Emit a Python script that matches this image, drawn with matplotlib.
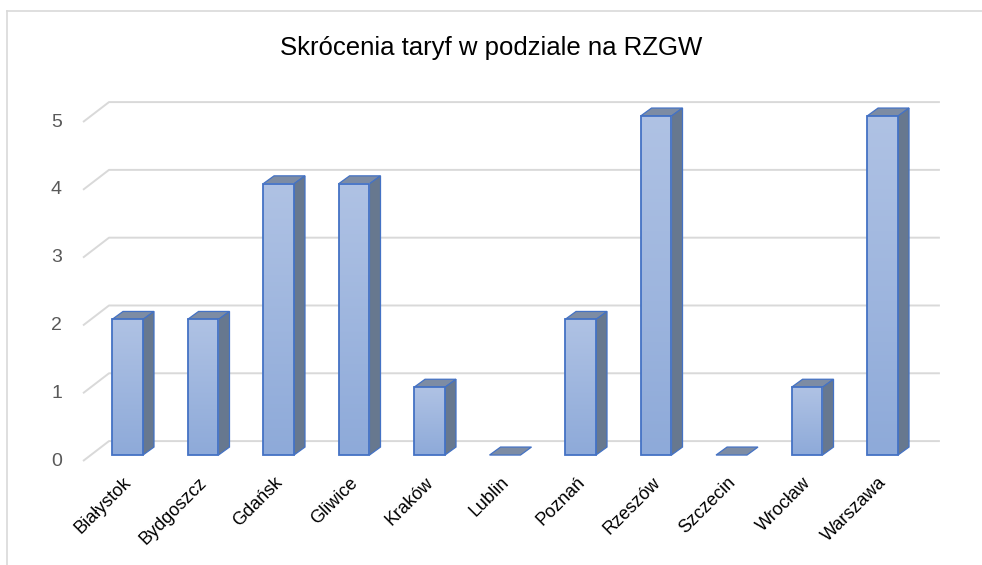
import numpy as np
import matplotlib.pyplot as plt
from matplotlib.patches import Polygon, Rectangle
from matplotlib.lines import Line2D
from matplotlib.colors import LinearSegmentedColormap

plt.rcParams['font.family'] = ['Liberation Sans', 'DejaVu Sans']

# data
categories = ['Białystok', 'Bydgoszcz', 'Gdańsk', 'Gliwice', 'Kraków', 'Lublin',
              'Poznań', 'Rzeszów', 'Szczecin', 'Wrocław', 'Warszawa']
values = [2, 2, 4, 4, 1, 0, 2, 5, 0, 1, 5]
y_ticks = [0, 1, 2, 3, 4, 5]
title = 'Skrócenia taryf w podziale na RZGW'

# style
edge_blue = '#4472c4'
side_col = '#67788f'
top_col = '#7d8ca4'
grid_col = '#d9d9d9'
grad = LinearSegmentedColormap.from_list('g', ['#8eaad9', '#afc2e4'])

# pseudo-3D geometry (data units)
half_w = 0.205
depth_x, depth_y = 0.146, 0.118
wall_dy = 0.206
slant_x0, slant_x1, grid_x_end = -0.589, -0.245, 10.76

fig = plt.figure(figsize=(9.82, 5.65), dpi=100)
fig.set_facecolor('white')
ax = fig.add_axes([0.0837, 0.1706, 0.8765, 0.684])
ax.set_axis_off()

# back wall gridlines with left slant
for v in y_ticks:
    ax.plot([slant_x0, slant_x1, grid_x_end], [v - 0.088, v + wall_dy, v + wall_dy],
            color=grid_col, lw=1.4, zorder=1, solid_capstyle='butt')
    ax.text(-0.868, v - 0.088, str(v), ha='right', va='center',
            fontsize=14, color='#595959')

# bars
for i, (name, v) in enumerate(zip(categories, values)):
    x0, x1 = i - half_w, i + half_w
    top = Polygon([(x0, v), (x1, v), (x1 + depth_x, v + depth_y), (x0 + depth_x, v + depth_y)],
                  closed=True, facecolor=top_col, edgecolor=edge_blue, lw=0.9, zorder=3)
    ax.add_patch(top)
    if v > 0:
        side = Polygon([(x1, 0), (x1 + depth_x, depth_y), (x1 + depth_x, v + depth_y), (x1, v)],
                       closed=True, facecolor=side_col, edgecolor=edge_blue, lw=0.9, zorder=3)
        ax.add_patch(side)
        g = np.linspace(0, 1, 64).reshape(-1, 1)
        ax.imshow(g, extent=[x0, x1, 0, v], origin='lower', cmap=grad,
                  aspect='auto', zorder=4, interpolation='bilinear')
        ax.add_patch(Rectangle((x0, 0), x1 - x0, v, fill=False,
                               edgecolor=edge_blue, lw=1.3, zorder=5))
    ax.text(i + 0.02, -0.37, name, rotation=45, rotation_mode='anchor',
            ha='right', va='center', fontsize=13, color='#000000')

ax.set_xlim(-0.6, 10.8)
ax.set_ylim(-0.2, 5.5)

fig.text(0.5, 0.915, title, ha='center', va='center', fontsize=18.5, color='#000000')

# chart frame (cropped)
fig.add_artist(Line2D([0.0071, 0.0071], [0, 0.9805], color=grid_col, lw=1.2))
fig.add_artist(Line2D([0.0071, 1], [0.9805, 0.9805], color=grid_col, lw=1.2))

fig.savefig('out.png', dpi=100, facecolor='white')
